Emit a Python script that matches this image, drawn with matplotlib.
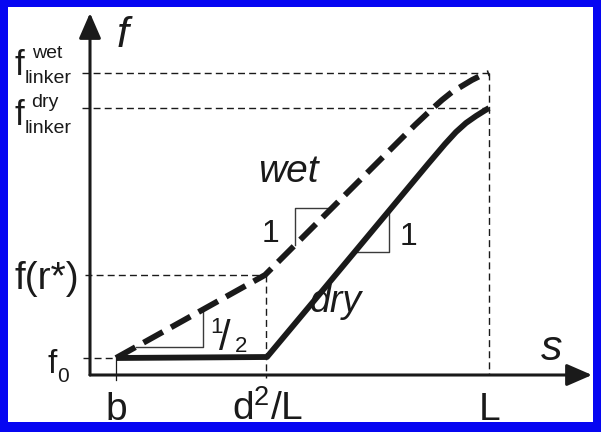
import matplotlib

matplotlib.use("Agg")

import numpy as np
import matplotlib.pyplot as plt

plt.rcParams["font.family"] = ["Liberation Sans", "DejaVu Sans"]
plt.rcParams["mathtext.default"] = "regular"

# schematic force-extension data (arbitrary units, origin at the axes corner)
b, d2_L, L = 26, 176, 399
f0, f_rstar, f_dry, f_wet = 17, 100, 267, 302

dry_s = [26, 177, 223, 318, 338, 355, 366, 376, 386, 394, 399]
dry_f = [17, 18, 73, 187, 211, 231, 243, 252, 259, 264, 267]

wet_s = [26, 175, 305, 325, 342, 352, 362, 372, 382, 391, 399]
wet_f = [17, 100, 230, 250, 266, 275, 283, 289, 295, 299.5, 302]

x_labels = ["b", "d$^{2}$/L", "L"]

INK = "#1a1a1a"
THIN = "#3a3a3a"
BORDER = "#0606f2"

fig = plt.figure(figsize=(6.01, 4.32), dpi=100, facecolor=BORDER)
ax = fig.add_axes([8 / 601, 10 / 432, 585 / 601, 415 / 432])
ax.set_facecolor("white")
ax.set_xlim(-82, 503)
ax.set_ylim(-47, 368)
ax.set_xticks([])
ax.set_yticks([])
for sp in ax.spines.values():
    sp.set_visible(False)

# axes with arrow heads
arrow = dict(arrowstyle="-|>,head_length=0.62,head_width=0.27", lw=2.2,
             color=INK, mutation_scale=25, shrinkA=0, shrinkB=0)
ax.annotate("", xy=(0, 362), xytext=(0, 0), arrowprops=arrow)
ax.annotate("", xy=(502, 0), xytext=(0, 0), arrowprops=arrow)

# guide lines
guide = dict(color=INK, lw=1.0, dashes=(5, 3))
ax.plot([-7, b], [f0, f0], **guide)
ax.plot([-5, d2_L], [f_rstar, f_rstar], **guide)
ax.plot([-8, L], [f_dry, f_dry], **guide)
ax.plot([-8, L], [f_wet, f_wet], **guide)
ax.plot([d2_L, d2_L], [f_rstar, -3], **guide)
ax.plot([L, L], [f_wet, 0], **guide)
ax.plot([b, b], [f0, -5], color=INK, lw=0.9)

# curves
ax.plot(dry_s, dry_f, color=INK, lw=4.2, solid_joinstyle="round",
        solid_capstyle="butt", zorder=3)
ax.plot(wet_s, wet_f, color=INK, lw=4.2, dashes=(3.8, 1.6),
        dash_joinstyle="round", zorder=3)

# slope triangles
tri = dict(color=THIN, lw=1.0)
cs, cf = 113, 28
ax.plot([np.interp(cf, wet_f, wet_s), cs, cs],
        [cf, cf, np.interp(cs, wet_s, wet_f)], **tri)
cs, cf = 205, 167
ax.plot([cs, cs, np.interp(cf, wet_f, wet_s)],
        [np.interp(cs, wet_s, wet_f), cf, cf], **tri)
cs, cf = 299, 123
ax.plot([np.interp(cf, dry_f, dry_s), cs, cs],
        [cf, cf, np.interp(cs, dry_s, dry_f)], **tri)

# axis names and curve labels
ax.text(33, 328, "f", fontsize=31, style="italic", color=INK, ha="center", va="baseline")
ax.text(462, 15, "s", fontsize=31, style="italic", color=INK, ha="center", va="baseline")
ax.text(198, 193, "wet", fontsize=28, style="italic", color=INK, ha="center", va="baseline")
ax.text(246, 63, "dry", fontsize=27, style="italic", color=INK, ha="center", va="baseline")
ax.text(180, 133, "1", fontsize=23, color=INK, ha="center", va="baseline")
ax.text(318, 130, "1", fontsize=23, color=INK, ha="center", va="baseline")
ax.text(126, 42, "1", fontsize=16, color=INK, ha="center", va="baseline")
ax.text(135, 25, "/", fontsize=30, color=INK, ha="center", va="baseline")
ax.text(151, 23, "2", fontsize=16, color=INK, ha="center", va="baseline")

# x tick labels
for pos, lab in zip([b, d2_L + 2, L + 1], x_labels):
    ax.text(pos, -45, lab, fontsize=28, color=INK, ha="center", va="baseline")

# y tick labels
ax.text(-38, 2, "f", fontsize=24, color=INK, ha="center", va="baseline")
ax.text(-27, -7, "0", fontsize=15, color=INK, ha="center", va="baseline")
ax.text(-43, 96, "f(r*)", fontsize=28, color=INK, ha="center", va="center")
ax.text(-71, 300, "f", fontsize=25, color=INK, ha="center", va="baseline")
ax.text(-43, 317, "wet", fontsize=14, color=INK, ha="center", va="baseline")
ax.text(-42, 292, "linker", fontsize=14, color=INK, ha="center", va="baseline")
ax.text(-71, 250, "f", fontsize=25, color=INK, ha="center", va="baseline")
ax.text(-45, 268, "dry", fontsize=14, color=INK, ha="center", va="baseline")
ax.text(-42, 242, "linker", fontsize=14, color=INK, ha="center", va="baseline")

fig.savefig("out.png", dpi=100, facecolor=BORDER)
plt.close(fig)
